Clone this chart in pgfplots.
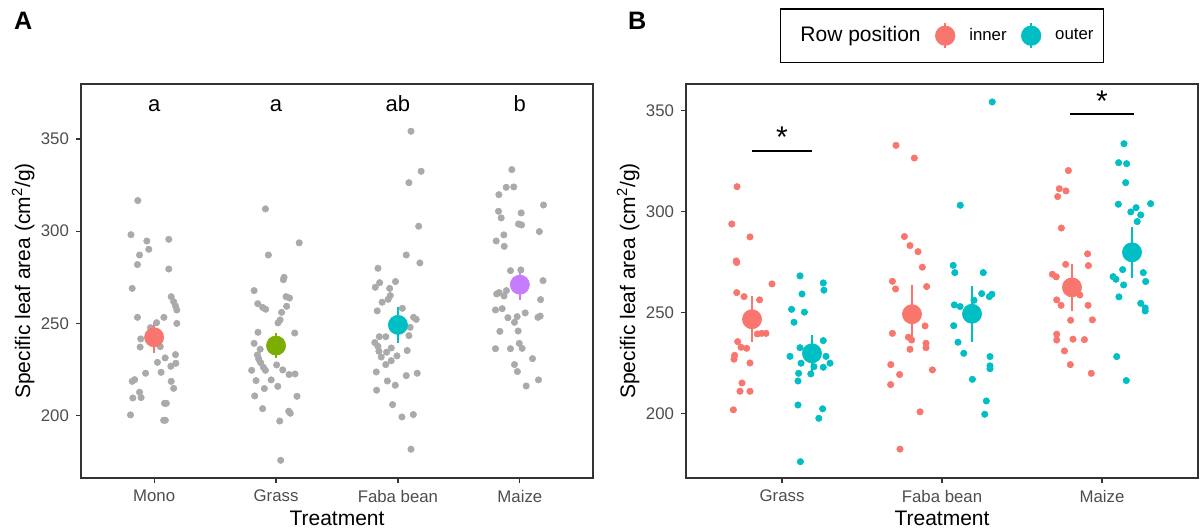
\documentclass[border=0pt]{standalone}
\usepackage{fontspec}
\setmainfont{Liberation Sans}
\usepackage{pgfplots}
\pgfplotsset{compat=1.18}
\usepackage{pgfplotstable}

\definecolor{cred}{HTML}{F8766D}
\definecolor{cgreen}{HTML}{7CAE00}
\definecolor{ccyan}{HTML}{00BFC4}
\definecolor{cpurple}{HTML}{C77CFF}
\definecolor{ptgray}{HTML}{AAAAAA}
\definecolor{tickgray}{HTML}{4D4D4D}
\definecolor{boxgray}{HTML}{333333}

\newcommand{\tsz}{\fontsize{8.4}{10}\selectfont}
\newcommand{\lsz}{\fontsize{10.5}{12.6}\selectfont}

% panel A: all plants, x = treatment index + jitter
\pgfplotstableread{
x y
0.866 316.6
0.81 298.1
0.94 294.7
1.12 295.6
0.956 290.2
0.88 287.1
0.863 281.9
1.12 279.5
0.82 269.0
1.14 264.5
1.16 261.8
1.175 259.5
1.186 257.3
0.863 253.3
1.02 250.4
1.08 253.3
1.186 250.0
0.89 241.6
0.885 237.2
1.09 231.3
1.027 228.9
1.175 233.1
1.137 226.8
1.178 228.4
1.057 223.5
0.93 223.0
0.84 219.5
0.82 218.6
1.14 218.6
1.16 214.8
0.88 212.7
0.825 209.6
0.893 209.8
1.085 206.7
1.10 206.7
0.806 200.4
1.078 197.5
1.092 197.5
0.97 247.7
1.05 237.4
}\monoA

\pgfplotstableread{
x y
1.913 312.1
2.19 293.7
1.937 287.1
2.066 275.0
2.06 273.7
1.82 267.8
2.082 264.5
2.11 263.8
1.85 260.7
1.89 258.7
1.915 257.7
2.087 259.3
2.046 256.0
2.033 251.9
2.016 250.3
1.852 245.2
2.153 244.8
1.82 239.2
1.87 236.0
1.847 232.9
1.858 230.7
1.874 228.7
1.896 226.2
1.80 224.6
1.913 224.6
2.055 224.8
2.005 227.5
2.107 222.3
2.156 222.6
1.836 219.0
1.96 219.4
1.904 214.7
2.014 215.9
1.825 210.7
2.172 210.5
1.89 203.8
2.104 202.4
2.117 201.3
2.03 197.1
2.038 175.8
}\grassA

\pgfplotstableread{
x y
3.107 354.2
3.19 332.5
3.09 326.3
3.17 302.7
3.068 287.1
3.18 282.8
2.836 279.9
2.85 272.1
2.814 269.6
2.98 272.7
2.932 269.0
2.937 265.1
2.92 263.1
2.87 261.5
2.83 256.8
3.036 258.2
3.128 253.3
3.15 252.2
3.10 247.9
3.09 243.4
2.847 242.8
2.90 242.8
2.81 239.6
2.836 237.6
2.945 236.7
2.844 234.9
2.907 234.4
2.992 232.4
2.863 231.8
2.945 229.8
2.90 227.7
3.076 235.3
2.822 223.7
3.068 221.7
3.158 223.0
2.913 218.8
2.978 216.5
2.825 213.8
2.956 206.0
3.033 199.3
3.126 200.6
3.107 181.8
}\fabaA

\pgfplotstableread{
x y
3.934 333.4
3.888 323.8
3.95 324.0
3.828 319.8
4.194 314.2
3.825 310.8
3.847 307.2
4.011 309.9
3.989 303.9
4.014 303.4
4.16 299.8
3.869 298.0
3.806 294.7
3.872 291.8
3.923 278.6
4.008 279.0
4.19 273.2
3.81 266.0
3.83 266.7
3.87 264.9
3.89 267.8
4.17 262.9
3.80 257.3
3.855 258.0
4.044 255.7
3.902 253.1
3.978 253.7
3.956 250.6
4.148 253.3
4.167 254.0
3.836 245.7
3.986 245.9
3.995 239.2
4.019 236.5
3.80 236.3
3.923 236.3
4.104 230.9
3.956 227.7
3.98 223.9
4.153 219.4
4.052 216.1
}\maizeA

% panel B: split by row position
\pgfplotstableread{
x y
0.719 312.3
0.686 293.8
0.80 287.4
0.714 275.5
0.717 274.7
0.9375 264.1
0.717 259.8
0.763 257.8
0.86 256.2
0.846 239.3
0.873 239.6
0.90 239.6
0.723 235.5
0.744 232.7
0.779 232.2
0.704 228.7
0.70 226.8
0.80 224.9
0.75 215.0
0.7375 210.9
0.80 210.9
0.696 201.7
1.7125 332.8
1.827 326.5
1.765 287.6
1.80 283.1
1.85 280.1
1.877 272.4
1.69 265.4
1.71 261.6
1.904 262.8
1.894 243.3
1.69 239.6
1.79 237.7
1.81 236.3
1.80 231.7
1.90 234.7
1.90 232.5
1.68 224.1
1.735 219.2
1.94 221.5
1.679 214.2
1.863 200.7
1.7375 182.2
2.79 320.3
2.733 311.3
2.775 310.2
2.723 307.4
2.746 291.8
2.91 279.0
2.915 273.2
2.773 273.8
2.69 268.9
2.714 267.6
2.717 256.2
2.744 253.5
2.862 258.6
2.913 253.5
2.804 246.1
2.94 246.3
2.717 239.2
2.717 236.3
2.819 236.7
2.89 236.5
2.765 230.9
2.802 224.1
2.933 219.8
}\innerB

\pgfplotstableread{
x y
1.1125 268.1
1.258 264.6
1.262 261.0
1.125 259.1
1.06 251.5
1.14 250.1
1.075 245.1
1.258 236.0
1.1125 232.5
1.05 228.2
1.275 228.2
1.119 224.8
1.30 224.8
1.20 223.1
1.258 222.8
1.104 219.8
1.18 219.5
1.10 216.0
1.10 204.1
1.254 202.2
1.23 197.5
1.115 176.0
2.314 354.3
2.114 303.1
2.07 273.3
2.08 269.7
2.258 269.7
2.248 259.3
2.296 257.8
2.312 259.0
2.077 253.7
2.113 252.9
2.073 243.4
2.10 235.2
2.136 229.7
2.30 228.1
2.30 223.5
2.30 222.1
2.19 216.8
2.277 206.1
2.267 199.5
2.20 256.0
3.1375 333.6
3.104 324.2
3.154 323.7
3.148 314.3
3.102 303.6
3.304 303.9
3.213 301.9
3.18 299.8
3.242 298.3
3.22 295.0
3.129 271.2
3.069 267.7
3.087 266.4
3.258 269.7
3.273 265.3
3.135 263.6
3.106 257.7
3.242 254.5
3.27 252.2
3.27 250.7
3.092 228.1
3.152 216.2
}\outerB

\pgfplotsset{
  panel/.style={
    scale only axis, width=256pt, height=197pt,
    axis line style={draw=boxgray, line width=0.7pt},
    tick align=outside, tick pos=left,
    major tick length=2.5pt,
    major tick style={draw=boxgray, line width=0.6pt},
    ticklabel style={text=tickgray, font=\tsz},
    /pgf/number format/assume math mode=true,
    label style={font=\lsz},
    ytick={200,250,300,350},
    xlabel={Treatment},
    ylabel={Specific leaf area (cm\textsuperscript{2}/g)},
    xlabel style={at={(axis description cs:0.5,-0.1015)}, anchor=center},
    ylabel style={at={(axis description cs:-0.113,0.5)}, anchor=center},
  },
  pts/.style={only marks, mark=*, mark size=1.6pt, color=#1,
    mark options={draw=#1, fill=#1, line width=0.3pt}, forget plot},
  avg/.style={only marks, mark=*, mark size=4.8pt, color=#1,
    mark options={draw=#1, fill=#1, line width=0.3pt},
    error bars/.cd, y dir=both, y explicit, error mark=none,
    error bar style={line width=1.2pt, color=#1}},
}

\begin{document}
\begin{tikzpicture}
\useasboundingbox (0,0) rectangle (600pt,-265.5pt);
\node[anchor=base west, font=\fontsize{12.6}{15}\selectfont\bfseries] at (3.5pt,-14.5pt) {A};
\node[anchor=base west, font=\fontsize{12.6}{15}\selectfont\bfseries] at (310.5pt,-14.5pt) {B};

\begin{axis}[panel, at={(40.5pt,-42pt)}, anchor=north west,
  xmin=0.4, xmax=4.6, ymin=166.2, ymax=379.8,
  xtick={1,2,3,4}, xticklabels={Mono,Grass,Faba bean,Maize}]
\addplot[pts=ptgray] table {\monoA};
\addplot[pts=ptgray] table {\grassA};
\addplot[pts=ptgray] table {\fabaA};
\addplot[pts=ptgray] table {\maizeA};
\addplot[avg=cred] coordinates {(1,242.5) +- (0,8.5)};
\addplot[avg=cgreen] coordinates {(2,238.0) +- (0,7.0)};
\addplot[avg=ccyan] coordinates {(3,249.2) +- (0,9.7)};
\addplot[avg=cpurple] coordinates {(4,271.0) +- (0,8.5)};
\node[font=\fontsize{11}{13}\selectfont, anchor=base] at (axis cs:1,365) {a};
\node[font=\fontsize{11}{13}\selectfont, anchor=base] at (axis cs:2,365) {a};
\node[font=\fontsize{11}{13}\selectfont, anchor=base] at (axis cs:3,365) {ab};
\node[font=\fontsize{11}{13}\selectfont, anchor=base] at (axis cs:4,365) {b};
\end{axis}

\begin{axis}[panel, at={(343pt,-42pt)}, anchor=north west,
  xmin=0.4, xmax=3.6, ymin=167.9, ymax=363.2,
  xtick={1,2,3}, xticklabels={Grass,Faba bean,Maize},
  legend columns=-1,
  legend image code/.code={
    \draw[line width=1.2pt] (4.75pt,-6.25pt) -- (4.75pt,6.25pt);
    \fill (4.75pt,0pt) circle (4.75pt);},
  legend style={at={(0.5,1)}, anchor=south, yshift=10.5pt,
    draw=black, line width=0.6pt, font=\tsz,
    inner xsep=3pt, inner ysep=6.5pt,
    /tikz/every odd column/.append style={column sep=5pt},
    /tikz/every even column/.append style={column sep=5.2pt}}]
\addlegendimage{empty legend}
\addlegendentry{\lsz Row position}
\addplot[pts=cred] table {\innerB};
\addplot[pts=ccyan] table {\outerB};
\addplot[avg=cred] coordinates {(0.8125,246.6) +- (0,11.4) (1.8125,249.1) +- (0,14.5) (2.8125,262.4) +- (0,11.7)};
\addlegendentry{inner}
\addplot[avg=ccyan] coordinates {(1.1875,229.7) +- (0,9.1) (2.1875,249.3) +- (0,13.8) (3.1875,279.8) +- (0,12.6)};
\addlegendentry{outer}
\addplot[black, line width=1pt, forget plot] coordinates {(0.81,330.2) (1.19,330.2)};
\addplot[black, line width=1pt, forget plot] coordinates {(2.80,348.2) (3.20,348.2)};
\node[font=\fontsize{15}{15}\selectfont, anchor=base] at (axis cs:1,331.5) {*};
\node[font=\fontsize{15}{15}\selectfont, anchor=base] at (axis cs:3,349.5) {*};
\end{axis}
\end{tikzpicture}
\end{document}
